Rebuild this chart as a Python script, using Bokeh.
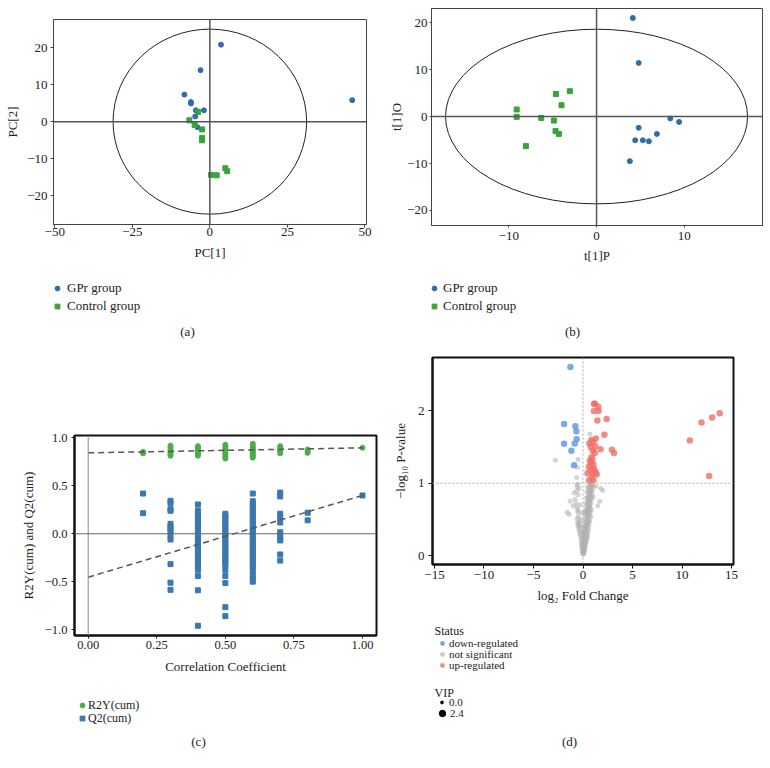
import math
from bokeh.plotting import figure
from bokeh.layouts import row, column
from bokeh.models import Span, Legend, LegendItem, Label, FixedTicker, CustomJSTickFormatter
from bokeh.embed import file_html
from bokeh.resources import INLINE

# ---------------- data: (a) PCA score plot ----------------
pca_gpr_x = [3.6, -3.0, -8.2, -6.1, -6.1, -4.5, -1.9, -4.7, -4.0, 45.9]
pca_gpr_y = [20.8, 13.9, 7.3, 5.3, 4.9, 3.05, 3.05, 1.4, -1.5, 5.8]
pca_ctl_x = [-3.8, -6.6, -4.9, -2.5, -2.5, -2.5, 0.4, 2.2, 5.0, 5.6]
pca_ctl_y = [2.6, 0.35, -0.9, -2.1, -4.4, -5.05, -14.4, -14.5, -12.6, -13.4]
pca_ellipse = [31.2, 25.0]          # half-axes of the T2 ellipse
pca_xticks = [-50, -25, 0, 25, 50]
pca_yticks = [-20, -10, 0, 10, 20]

# ---------------- data: (b) OPLS-DA score plot ----------------
opls_gpr_x = [4.13, 4.8, 4.8, 8.4, 9.4, 6.87, 4.4, 5.27, 5.96, 3.79]
opls_gpr_y = [21.0, 11.4, -2.4, -0.4, -1.15, -3.7, -5.05, -5.05, -5.27, -9.5]
opls_ctl_x = [-9.1, -9.1, -8.05, -6.3, -4.86, -4.63, -3.99, -3.04, -4.67, -4.29]
opls_ctl_y = [1.5, -0.07, -6.3, -0.3, -0.86, 4.8, 2.4, 5.4, -3.07, -3.7]
opls_ellipse = [17.2, 18.6]
opls_xticks = [-10, 0, 10]
opls_yticks = [-20, -10, 0, 10, 20]

# ---------------- data: (c) permutation test ----------------
perm_levels = [0.2, 0.3, 0.4, 0.5, 0.6, 0.7, 0.8, 1.0]
r2_020 = [0.855, 0.84]
r2_030 = [0.92, 0.90, 0.88, 0.86, 0.845, 0.83, 0.815]
r2_040 = [0.915, 0.895, 0.875, 0.86, 0.845, 0.83, 0.815]
r2_050 = [0.93, 0.91, 0.89, 0.87, 0.85, 0.835, 0.815, 0.80, 0.785]
r2_060 = [0.94, 0.92, 0.90, 0.885, 0.87, 0.855, 0.84, 0.825, 0.81, 0.795]
r2_070 = [0.915, 0.895, 0.875, 0.86, 0.84]
r2_080 = [0.88, 0.86, 0.845]
r2_100 = [0.898]
q2_020 = [0.42, 0.215]
q2_030 = [0.344, 0.32, 0.257, 0.24, 0.104, 0.07, 0.05, 0.024, -0.02, -0.06, -0.317, -0.51, -0.585]
q2_040 = [0.306, 0.243, 0.22, 0.19, 0.16, 0.13, 0.10, 0.07, 0.04, 0.01, -0.02, -0.05, -0.08,
          -0.11, -0.14, -0.17, -0.20, -0.23, -0.26, -0.29, -0.32, -0.35, -0.376, -0.44, -0.59, -0.96]
q2_050 = [0.209, 0.18, 0.15, 0.12, 0.09, 0.06, 0.03, 0.0, -0.03, -0.06, -0.09, -0.12, -0.15,
          -0.18, -0.21, -0.24, -0.27, -0.296, -0.33, -0.376, -0.44, -0.515, -0.766, -0.86]
q2_060 = [0.42, 0.34, 0.31, 0.28, 0.25, 0.22, 0.19, 0.16, 0.13, 0.10, 0.07, 0.04, 0.01, -0.02,
          -0.05, -0.08, -0.11, -0.14, -0.17, -0.20, -0.23, -0.26, -0.29, -0.32, -0.35, -0.383,
          -0.43, -0.47, -0.50]
q2_070 = [0.43, 0.39, 0.21, 0.17, 0.118, 0.017, -0.02, -0.05, -0.07, -0.216, -0.28]
q2_080 = [0.22, 0.14]
q2_100 = [0.40]
fit_x = [0.0, 1.0]
r2_fit = [0.845, 0.897]
q2_fit = [-0.453, 0.40]
perm_xticks = [0.0, 0.25, 0.5, 0.75, 1.0]
perm_yticks = [-1.0, -0.5, 0.0, 0.5, 1.0]

# ---------------- data: (d) volcano plot ----------------
down_fc = [-1.27, -1.91, -0.77, -0.67, -0.64, -1.91, -0.84, -1.17, -0.9]
down_p = [2.61, 1.82, 1.79, 1.72, 1.61, 1.545, 1.55, 1.45, 1.25]
up_fc = [1.11, 1.2, 1.55, 1.1, 1.57, 1.45, 2.39, 2.16, 0.85, 1.05, 1.25, 0.78, 1.78, 2.92, 3.13,
         1.19, 0.85, 0.95, 0.78, 1.05, 0.6, 1.11, 0.78, 1.28, 0.45, 0.95, 1.38, 0.61, 1.05, 0.9,
         0.7, 1.0, 0.65, 1.3, 10.79, 11.97, 13.04, 13.81, 12.74]
up_p = [2.10, 2.10, 2.06, 2.0, 2.0, 1.87, 1.89, 1.67, 1.60, 1.57, 1.51, 1.50, 1.47, 1.465, 1.42,
        1.42, 1.36, 1.33, 1.28, 1.26, 1.23, 1.20, 1.18, 1.16, 1.14, 1.13, 1.12, 1.04, 1.04, 1.08,
        1.31, 1.45, 1.55, 1.62, 1.59, 1.84, 1.91, 1.97, 1.10]
ns_fc = [0.0, 0.05, -0.05, 0.1, 0.0, 0.12, -0.08, 0.05, 0.15, -0.1, 0.0, 0.18, 0.08, 0.2, -0.12,
         0.0, 0.15, 0.25, -0.15, 0.05, 0.2, 0.3, -0.18, -0.1, 0.1, 0.25, 0.35, -0.2, 0.0, 0.15,
         0.3, 0.4, -0.25, 0.05, 0.2, 0.35, 0.45, -0.3, 0.1, 0.25, 0.4, -0.35, -0.1, 0.15, 0.3,
         0.5, -0.4, 0.2, 0.35, 0.55, -0.45, -0.2, 0.25, 0.4, -0.5, -0.3, 0.3, 0.45, 0.6, -0.55,
         -0.35, 0.3, 0.5, -0.4, 0.35, 0.55, 0.7, -0.6, 0.35, 0.5, -0.45, 0.4, 0.6, 0.8, -1.4,
         0.4, 0.65, -1.6, -0.5, 0.45, 0.7, -0.55, 0.45, 0.6, 0.85, -0.6, 0.5, 0.75, -1.0, 0.5,
         0.65, 1.5, -0.7, 0.55, 0.8, -1.3, 0.55, 0.7, 1.7, -0.8, 0.6, 0.85, 0.6, 0.75, 1.0, -0.5,
         0.65, 0.9, -0.9, 0.65, 0.8, -0.6, 0.7, 0.95, 2.0, -0.4, 0.7, 0.85, 1.8, -0.6, 0.75, 1.0,
         1.3, -0.55, 0.8, -2.8, -0.5, -0.57, 0.7, -0.64,
         0.25, 0.3, 0.35, 0.4, 0.45, 0.5, 0.55, 0.6, 0.65, 0.2, 0.15, 0.1, 0.05, 0.7, 0.3, 0.35,
         0.4, 0.45, 0.25, 0.2, 0.55, 0.6, 0.65, 0.7, 0.75, 0.85, 0.9, -0.2, -0.3, -0.1]
ns_p = [0.02, 0.02, 0.04, 0.04, 0.06, 0.06, 0.06, 0.08, 0.08, 0.10, 0.10, 0.10, 0.12, 0.12, 0.12,
        0.15, 0.15, 0.15, 0.15, 0.18, 0.18, 0.18, 0.18, 0.21, 0.21, 0.21, 0.21, 0.24, 0.24, 0.24,
        0.24, 0.24, 0.27, 0.27, 0.27, 0.27, 0.27, 0.30, 0.30, 0.30, 0.30, 0.33, 0.33, 0.33, 0.33,
        0.33, 0.36, 0.36, 0.36, 0.36, 0.39, 0.39, 0.39, 0.39, 0.42, 0.42, 0.42, 0.42, 0.42, 0.45,
        0.45, 0.45, 0.45, 0.48, 0.48, 0.48, 0.48, 0.51, 0.51, 0.51, 0.54, 0.54, 0.54, 0.54, 0.57,
        0.57, 0.57, 0.60, 0.60, 0.60, 0.60, 0.63, 0.63, 0.63, 0.63, 0.66, 0.66, 0.66, 0.69, 0.69,
        0.69, 0.69, 0.72, 0.72, 0.72, 0.75, 0.75, 0.75, 0.75, 0.78, 0.78, 0.78, 0.81, 0.81, 0.81,
        0.84, 0.84, 0.84, 0.87, 0.87, 0.87, 0.90, 0.90, 0.90, 0.90, 0.93, 0.93, 0.93, 0.93, 0.96,
        0.96, 0.96, 0.96, 0.99, 0.99, 1.32, 1.33, 1.22, 1.68, 1.08,
        0.55, 0.6, 0.65, 0.7, 0.75, 0.8, 0.85, 0.9, 0.95, 0.45, 0.4, 0.35, 0.3, 0.98, 0.72, 0.8,
        0.88, 0.95, 0.62, 0.58, 0.62, 0.68, 0.74, 0.8, 0.88, 0.95, 0.97, 0.6, 0.7, 0.5]
volc_xticks = [-15, -10, -5, 0, 5, 10, 15]
volc_yticks = [0, 1, 2]

# ---------------- styling ----------------
SERIF = "Liberation Serif"
BLUE = "#2e6ea6"
GREEN = "#3aa23a"
C_GREEN = "#4dac4a"
C_BLUE = "#3a78b0"
V_DOWN = "#6f9fe8"
V_UP = "#ee6f67"
V_NS = "#b0b0b0"
TXT = "#222222"
NAN = [math.nan]


def fmt(dec):
    return CustomJSTickFormatter(
        code="return (tick < 0 ? '\u2212' : '') + Math.abs(tick).toFixed(%d);" % dec)


def make_fig(w, h, xr, yr, left, right, top, bottom):
    p = figure(width=w, height=h, x_range=xr, y_range=yr, output_backend="svg",
               toolbar_location=None, min_border_left=left, min_border_right=right,
               min_border_top=top, min_border_bottom=bottom, frame_align=False)
    p.grid.visible = False
    return p


def key_fig(w, h):
    k = figure(width=w, height=h, x_range=(0, 1), y_range=(0, 1), output_backend="svg",
               toolbar_location=None, x_axis_type=None, y_axis_type=None,
               min_border_left=0, min_border_right=0, min_border_top=0, min_border_bottom=0,
               frame_align=False)
    k.grid.visible = False
    k.outline_line_color = None
    return k


def style_axes(p, xticks, yticks, xdec, ydec, xlabel, ylabel, color, lw, fsize,
               tick_out, x_std, x_lab_std, y_std, y_lab_std):
    p.xaxis.ticker = FixedTicker(ticks=xticks)
    p.yaxis.ticker = FixedTicker(ticks=yticks)
    p.xaxis.formatter = fmt(xdec)
    p.yaxis.formatter = fmt(ydec)
    p.xaxis.axis_label = xlabel
    p.yaxis.axis_label = ylabel
    for ax in (p.xaxis[0], p.yaxis[0]):
        ax.axis_line_color = color
        ax.axis_line_width = lw
        ax.major_tick_line_color = color
        ax.major_tick_line_width = 1
        ax.major_tick_out = tick_out
        ax.major_tick_in = 0
        ax.minor_tick_line_color = None
        ax.major_label_text_font = SERIF
        ax.major_label_text_font_size = fsize
        ax.major_label_text_color = TXT
        ax.axis_label_text_font = SERIF
        ax.axis_label_text_font_size = "13px"
        ax.axis_label_text_font_style = "normal"
        ax.axis_label_text_color = TXT
    p.xaxis.major_label_standoff = x_std
    p.xaxis.axis_label_standoff = x_lab_std
    p.yaxis.major_label_standoff = y_std
    p.yaxis.axis_label_standoff = y_lab_std
    p.outline_line_color = color
    p.outline_line_width = lw
    p.outline_line_alpha = 1


def text(k, t, x, y, size="13px", align="center"):
    k.add_layout(Label(x=x, y=y, x_units="screen", y_units="screen", text=t,
                       text_align=align, text_baseline="middle", text_font=SERIF,
                       text_font_size=size, text_color=TXT))


def key(k, label, renderer, x_left, y_center, gw, standoff, fsize):
    # one legend entry; its box is 20px tall so the entry is centred on y_center
    k.add_layout(Legend(items=[LegendItem(label=label, renderers=[renderer])],
                        location=(x_left, y_center - 10), padding=0, margin=0,
                        border_line_color=None, background_fill_alpha=0,
                        glyph_width=gw, glyph_height=20, label_height=20, spacing=0,
                        label_standoff=standoff, label_text_font=SERIF,
                        label_text_font_size=fsize, label_text_color=TXT))


# ---------------- (a) ----------------
pa = make_fig(385, 265, (-50.4, 50.5), (-27.8, 27.6), 53, 19, 19, 41)
style_axes(pa, pca_xticks, pca_yticks, 0, 0, "PC[1]", "PC[2]", "#444444", 1, "13px",
           3, 0, 6, 3, 4)
pa.add_layout(Span(location=0, dimension="height", line_color="#555555", line_width=1.5))
pa.add_layout(Span(location=0, dimension="width", line_color="#555555", line_width=1.5))
pa.ellipse(x=[0], y=[0], width=[2 * pca_ellipse[0]], height=[2 * pca_ellipse[1]],
           fill_color=None, line_color="#222222", line_width=1)
pa.scatter(pca_gpr_x, pca_gpr_y, marker="circle", size=5, color=BLUE)
pa.scatter(pca_ctl_x, pca_ctl_y, marker="square", size=5, color=GREEN)

ka = key_fig(385, 90)
ka1 = ka.scatter(NAN, NAN, marker="circle", color=BLUE)
ka2 = ka.scatter(NAN, NAN, marker="square", color=GREEN)
key(ka, "GPr group", ka1, 51, 67, 12, 4, "13px")
key(ka, "Control group", ka2, 51, 49, 12, 4, "13px")
text(ka, "(a)", 187, 24)

# ---------------- (b) ----------------
pb = make_fig(385, 265, (-18.8, 18.9), (-23.2, 23.0), 46, 8, 8, 40)
style_axes(pb, opls_xticks, opls_yticks, 0, 0, "t[1]P", "t[1]O", "#444444", 1, "13px",
           2, 4, 5, 2, 0)
pb.add_layout(Span(location=0, dimension="height", line_color="#555555", line_width=1.5))
pb.add_layout(Span(location=0, dimension="width", line_color="#555555", line_width=1.5))
pb.ellipse(x=[0], y=[0], width=[2 * opls_ellipse[0]], height=[2 * opls_ellipse[1]],
           fill_color=None, line_color="#222222", line_width=1)
pb.scatter(opls_gpr_x, opls_gpr_y, marker="circle", size=5, color=BLUE)
pb.scatter(opls_ctl_x, opls_ctl_y, marker="square", size=5, color=GREEN)

kb = key_fig(385, 90)
kb1 = kb.scatter(NAN, NAN, marker="circle", color=BLUE)
kb2 = kb.scatter(NAN, NAN, marker="square", color=GREEN)
key(kb, "GPr group", kb1, 43, 67, 12, 3, "13px")
key(kb, "Control group", kb2, 43, 49, 12, 3, "13px")
text(kb, "(b)", 187, 24)

# ---------------- (c) ----------------
pc = make_fig(385, 325, (-0.05, 1.051), (-1.062, 1.026), 74, 9, 80, 45)
style_axes(pc, perm_xticks, perm_yticks, 2, 1, "Correlation Coefficient",
           "R2Y(cum) and Q2(cum)", "#111111", 2, "12.5px", 3, 2, 7, 4, 6)
pc.add_layout(Span(location=0, dimension="height", line_color="#888888", line_width=1))
pc.add_layout(Span(location=0, dimension="width", line_color="#666666", line_width=1))
r2_cols = [r2_020, r2_030, r2_040, r2_050, r2_060, r2_070, r2_080, r2_100]
q2_cols = [q2_020, q2_030, q2_040, q2_050, q2_060, q2_070, q2_080, q2_100]
r2x, r2y, q2x, q2y = [], [], [], []
for lvl, rv, qv in zip(perm_levels, r2_cols, q2_cols):
    r2x += [lvl] * len(rv)
    r2y += rv
    q2x += [lvl] * len(qv)
    q2y += qv
pc.scatter(r2x, r2y, marker="circle", size=5, color=C_GREEN)
pc.scatter(q2x, q2y, marker="square", size=5, color=C_BLUE)
pc.line(fit_x, r2_fit, line_color="#555555", line_width=1.5, line_dash="6 4")
pc.line(fit_x, q2_fit, line_color="#555555", line_width=1.5, line_dash="6 4")

kc = key_fig(385, 88)
kc1 = kc.scatter(NAN, NAN, marker="circle", color=C_GREEN)
kc2 = kc.scatter(NAN, NAN, marker="square", color=C_BLUE)
key(kc, "R2Y(cum)", kc1, 76, 63, 12, 0, "12px")
key(kc, "Q2(cum)", kc2, 76, 50, 12, 0, "12px")
text(kc, "(c)", 198, 27)

# ---------------- (d) ----------------
pd_ = make_fig(385, 250, (-15.2, 15.2), (-0.124, 2.74), 47, 37, 2, 40)
style_axes(pd_, volc_xticks, volc_yticks, 0, 0, "log\u2082 Fold Change",
           "\u2212log\u2081\u2080 P-value", "#111111", 2, "13px", 4, 2, 6, 4, 7)
pd_.add_layout(Span(location=1, dimension="width", line_color="#aaaaaa", line_width=1,
                    line_dash="2 2"))
pd_.add_layout(Span(location=0, dimension="height", line_color="#aaaaaa", line_width=1,
                    line_dash="2 2"))
pd_.scatter(ns_fc, ns_p, marker="circle", size=5, fill_color=V_NS, fill_alpha=0.55,
            line_color=None)
pd_.scatter(down_fc, down_p, marker="circle", size=6.5, fill_color=V_DOWN, fill_alpha=0.9,
            line_color=None)
pd_.scatter(up_fc, up_p, marker="circle", size=6.5, fill_color=V_UP, fill_alpha=0.8,
            line_color=None)

kd = key_fig(385, 163)
kd_dn = kd.scatter(NAN, NAN, marker="circle", fill_color=V_DOWN, fill_alpha=0.9, line_color=None)
kd_ns = kd.scatter(NAN, NAN, marker="circle", fill_color="#c8c8c8", line_color=None)
kd_up = kd.scatter(NAN, NAN, marker="circle", fill_color=V_UP, fill_alpha=0.8, line_color=None)
kd_s = kd.scatter(NAN, NAN, marker="circle", color="black")
kd_b = kd.scatter(NAN, NAN, marker="circle", color="black")
text(kd, "Status", 49, 138, "12px", "left")
key(kd, "down-regulated", kd_dn, 51, 125, 12, 1, "11px")
key(kd, "not significant", kd_ns, 51, 114.5, 12, 1, "11px")
key(kd, "up-regulated", kd_up, 51, 103.5, 12, 1, "11px")
text(kd, "VIP", 49, 76, "12px", "left")
key(kd, "0.0", kd_s, 53, 66, 7, 4, "11px")
key(kd, "2.4", kd_b, 49, 55, 16, 0, "11px")
text(kd, "(d)", 184, 27)

layout = column(row(column(pa, ka), column(pb, kb)),
                row(column(pc, kc), column(pd_, kd)))
open("out.html", "w").write(file_html(layout, INLINE))
